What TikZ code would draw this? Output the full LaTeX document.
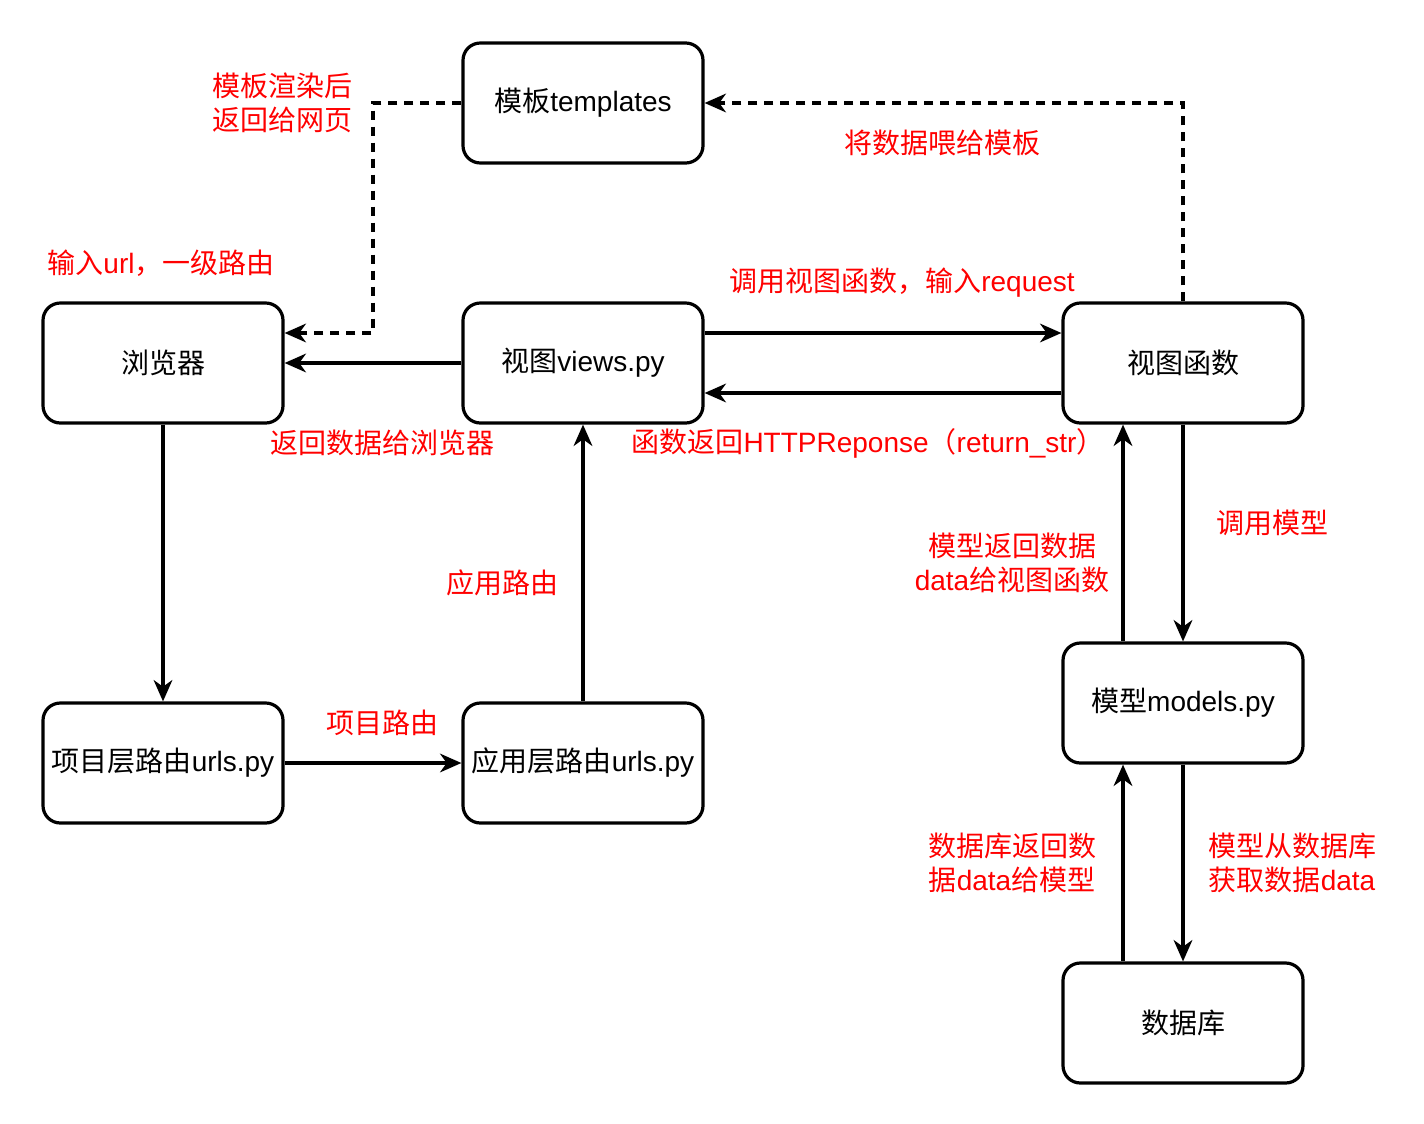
\documentclass[tikz,border=0pt]{standalone}
\usepackage{fontspec}
\setmainfont{Liberation Sans}
\newfontfamily\cjk{Noto Sans CJK SC}
\usetikzlibrary{arrows.meta}

\begin{document}
\begin{tikzpicture}[x=0.75pt,y=-0.75pt,
		font=\fontsize{21}{25.5}\selectfont,
		box/.style={draw,line width=2.4pt,rounded corners=13pt,minimum width=180pt,minimum height=90pt,inner sep=2pt},
		lbl/.style={text=red,align=center,inner sep=0pt},
		link/.style={line width=2.4pt,-{Stealth[length=16pt,width=14pt,inset=5pt]}},
		dlink/.style={link,dash pattern=on 7pt off 5pt}]
		\useasboundingbox (0,0) rectangle (1424,1124);
		% boxes
		\node[box](tpl) at (583,103){{\cjk 模板}templates};
		\node[box](browser) at (163,363){\cjk 浏览器};
		\node[box](views) at (583,363){{\cjk 视图}views.py};
		\node[box](func) at (1183,363){\cjk 视图函数};
		\node[box](projurls) at (163,763){{\cjk 项目层路由}urls.py};
		\node[box](appurls) at (583,763){{\cjk 应用层路由}urls.py};
		\node[box](models) at (1183,703){{\cjk 模型}models.py};
		\node[box](db) at (1183,1023){\cjk 数据库};
		% connectors
		\draw[dlink] (func.north) |- (tpl.east);
		\draw[dlink] (tpl.west) -- (373,103) |- ([yshift=22.5pt]browser.east);
		\draw[link] (views.west) -- (browser.east);
		\draw[link] ([yshift=22.5pt]views.east) -- ([yshift=22.5pt]func.west);
		\draw[link] ([yshift=-22.5pt]func.west) -- ([yshift=-22.5pt]views.east);
		\draw[link] (browser.south) -- (projurls.north);
		\draw[link] (projurls.east) -- (appurls.west);
		\draw[link] (appurls.north) -- (views.south);
		\draw[link] (func.south) -- (models.north);
		\draw[link] ([xshift=-45pt]models.north) -- ([xshift=-45pt]func.south);
		\draw[link] (models.south) -- (db.north);
		\draw[link] ([xshift=-45pt]db.north) -- ([xshift=-45pt]models.south);
		% labels
		\node[lbl](l1) at (282,103){\cjk 模板渲染后\\\cjk 返回给网页};
		\node[lbl](l2) at (942,143){\cjk 将数据喂给模板};
		\node[lbl](l3) at (161,263){{\cjk 输入}url{\cjk ，一级路由}};
		\node[lbl](l4) at (902,283){{\cjk 调用视图函数，输入}request};
		\node[lbl](l5) at (382,443){\cjk 返回数据给浏览器};
		\node[lbl](l6) at (868,443){{\cjk 函数返回}HTTPReponse{\cjk （}return\_str{\cjk ）}};
		\node[lbl](l7) at (1272,523){\cjk 调用模型};
		\node[lbl](l8) at (1012,563){\cjk 模型返回数据\\data{\cjk 给视图函数}};
		\node[lbl](l9) at (502,583){\cjk 应用路由};
		\node[lbl](l10) at (382,723){\cjk 项目路由};
		\node[lbl](l11) at (1012,863){\cjk 数据库返回数\\{\cjk 据}data{\cjk 给模型}};
		\node[lbl](l12) at (1292,863){\cjk 模型从数据库\\{\cjk 获取数据}data};
	\end{tikzpicture}
\end{document}
